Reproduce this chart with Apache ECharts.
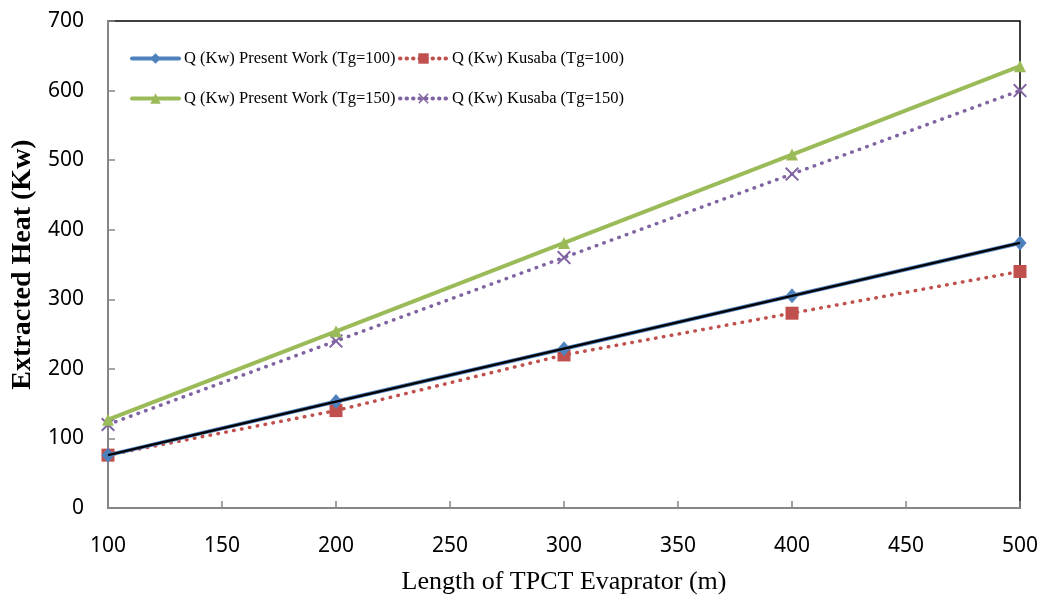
<!DOCTYPE html>
<html><head><meta charset="utf-8">
<script src="https://cdn.jsdelivr.net/npm/echarts@6/dist/echarts.min.js"></script>
<style>html,body{margin:0;padding:0;background:#fff}#c{width:1045px;height:599px}</style>
</head><body><div id="c"></div>
<script>
var lengths = [100, 200, 300, 400, 500];
var presentTg100 = [76, 153, 229, 305, 381];
var kusabaTg100 = [76, 140, 220, 280, 340];
var presentTg150 = [127, 254, 381, 508, 635];
var kusabaTg150 = [120, 240, 360, 480, 600];
var names = ['Q (Kw) Present Work (Tg=100)', 'Q (Kw) Kusaba (Tg=100)', 'Q (Kw) Present Work (Tg=150)', 'Q (Kw) Kusaba (Tg=150)'];
var colors = ['#4F81BD', '#C0504D', '#9BBB59', '#8064A2'];

function pairs(v){ return lengths.map(function(x,i){ return [x, v[i]]; }); }
var xPath = 'path://M1,0L5,4L9,0L10,1L6,5L10,9L9,10L5,6L1,10L0,9L4,5L0,1Z';
var dots = [0.5, 7.5];
var chart = echarts.init(document.getElementById('c'));
var legendText = {fontFamily:'Liberation Serif', fontSize:16.5, color:'#000'};
function leg(i, left, top, dotted){
  return {data:[{name:names[i], lineStyle:{width:4, color:colors[i], type: dotted ? [0.5,6] : 'solid', cap:'round'}}],
    left:left, top:top, itemWidth:47, itemHeight:13, itemGap:5, textStyle:legendText, padding:0, selectedMode:false};
}
chart.setOption({
  animation:false,
  grid:{left:108, right:25, top:21, bottom:91, show:true, borderColor:'#000', borderWidth:1.5, outerBoundsMode:'none', containLabel:false},
  legend:[leg(0,130,50,false), leg(1,398,50,true), leg(2,130,90,false), leg(3,398,90,true)],
  xAxis:{type:'value', min:100, max:500, interval:50,
    name:'Length of TPCT Evaprator (m)', nameLocation:'middle', nameGap:61,
    nameTextStyle:{fontFamily:'Liberation Serif', fontSize:26, color:'#000'},
    axisLine:{show:true, lineStyle:{color:'#868686', width:2}},
    axisTick:{show:true, inside:true, length:7, lineStyle:{color:'#868686', width:1.5}},
    axisLabel:{fontFamily:'Noto Sans', fontSize:21, color:'#000', margin:28},
    splitLine:{show:false}},
  yAxis:{type:'value', min:0, max:700, interval:100,
    name:'Extracted Heat (Kw)', nameLocation:'middle', nameGap:64,
    nameTextStyle:{fontFamily:'Liberation Serif', fontSize:28, fontWeight:'bold', color:'#000'},
    axisLine:{show:true, lineStyle:{color:'#868686', width:2}},
    axisTick:{show:true, inside:true, length:7, lineStyle:{color:'#868686', width:1.5}},
    axisLabel:{fontFamily:'Noto Sans', fontSize:21, color:'#000', margin:24},
    splitLine:{show:false}},
  series:[
    {name:names[0], type:'line', data:pairs(presentTg100), symbol:'diamond', symbolSize:[13,15],
      lineStyle:{color:colors[0], width:4}, itemStyle:{color:colors[0]}, z:3},
    {name:'trend', type:'line', data:pairs(presentTg100), symbol:'none',
      lineStyle:{color:'#000', width:2.2}, z:4, silent:true},
    {name:names[1], type:'line', data:pairs(kusabaTg100), symbol:'rect', symbolSize:13,
      lineStyle:{color:colors[1], width:3.5, type:dots, cap:'round'}, itemStyle:{color:colors[1]}, z:2},
    {name:names[2], type:'line', data:pairs(presentTg150), symbol:'triangle', symbolSize:12,
      lineStyle:{color:colors[2], width:4}, itemStyle:{color:colors[2]}, z:3},
    {name:names[3], type:'line', data:pairs(kusabaTg150), symbol:xPath, symbolSize:14,
      lineStyle:{color:colors[3], width:3.5, type:dots, cap:'round'}, itemStyle:{color:colors[3]}, z:2}
  ]
});
</script></body></html>
